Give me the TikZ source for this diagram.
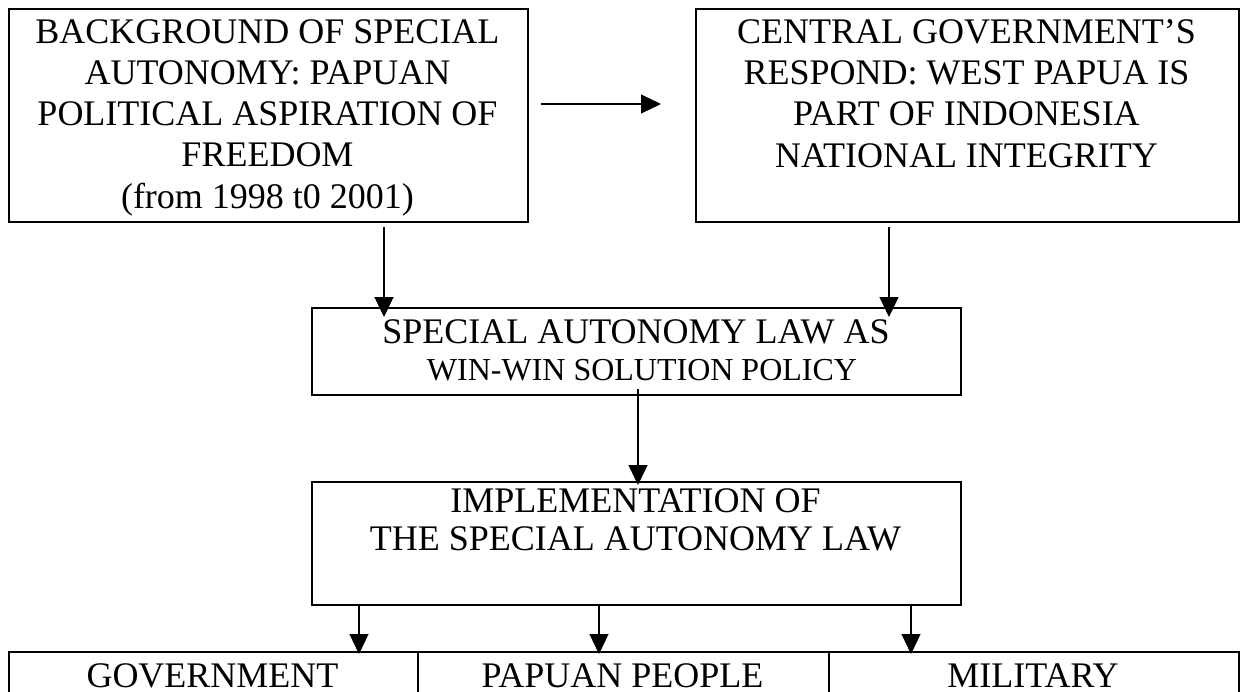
\documentclass[tikz,border=0pt]{standalone}
\usepackage{fontspec}
\setmainfont{Liberation Serif}
\usetikzlibrary{arrows.meta}
\begin{document}
\begin{tikzpicture}[x=0.5pt,y=-0.5pt,
  box/.style={draw,line width=1.1pt,inner sep=0pt,anchor=north west},
  txt/.style={font=\fontsize{18}{20.6}\selectfont,align=center,inner sep=0pt,anchor=base},
  arr/.style={line width=0.55pt,-{Triangle[width=9.5pt,length=10pt]}}]
\useasboundingbox (0,0) rectangle (1240,691);
% boxes
\node[box,minimum width=259.5pt,minimum height=106.5pt] (b1) at (8,8) {};
\node[box,minimum width=271.5pt,minimum height=106.5pt] (b2) at (695,8) {};
\node[box,minimum width=324.5pt,minimum height=43.5pt] (b3) at (311,307) {};
\node[box,minimum width=324.5pt,minimum height=61.5pt] (b4) at (311,481) {};
\node[box,minimum width=204.5pt,minimum height=50pt] (c1) at (8,651) {};
\node[box,minimum width=205.5pt,minimum height=50pt] (c2) at (417,651) {};
\node[box,minimum width=205pt,minimum height=50pt] (c3) at (828,651) {};
% texts (base anchor = baseline of the last line)
\node[txt] (t1) at (267.5,208) {BACKGROUND OF SPECIAL\\AUTONOMY: PAPUAN\\POLITICAL ASPIRATION OF\\FREEDOM\\(from 1998 t0 2001)};
\node[txt] (t2) at (966.5,167) {CENTRAL GOVERNMENT’S\\RESPOND: WEST PAPUA IS\\PART OF INDONESIA\\NATIONAL INTEGRITY};
\node[txt] (t3a) at (636,343) {SPECIAL AUTONOMY LAW AS};
\node[txt,font=\fontsize{16}{18}\selectfont] (t3b) at (642,380) {WIN-WIN SOLUTION POLICY};
\node[txt,font=\fontsize{18}{18.6}\selectfont] (t4) at (635.5,550) {IMPLEMENTATION OF\\THE SPECIAL AUTONOMY LAW};
\node[txt] (tc1) at (212.5,687) {GOVERNMENT};
\node[txt] (tc2) at (622.5,687) {PAPUAN PEOPLE};
\node[txt] (tc3) at (1033,687) {MILITARY};
% arrow end points
\coordinate (h0) at (541,104);
\coordinate (h1) at (661,104);
\coordinate (v1a) at (384,227);
\coordinate (v1b) at (384,317);
\coordinate (v2a) at (889,227);
\coordinate (v2b) at (889,317);
\coordinate (v3a) at (638,389);
\coordinate (v3b) at (638,485);
\coordinate (d1a) at (359,605);
\coordinate (d1b) at (359,654);
\coordinate (d2a) at (599,605);
\coordinate (d2b) at (599,654);
\coordinate (d3a) at (911,605);
\coordinate (d3b) at (911,654);
\draw[arr] (h0) -- (h1);
\draw[arr] (v1a) -- (v1b);
\draw[arr] (v2a) -- (v2b);
\draw[arr] (v3a) -- (v3b);
\draw[arr] (d1a) -- (d1b);
\draw[arr] (d2a) -- (d2b);
\draw[arr] (d3a) -- (d3b);
\end{tikzpicture}
\end{document}
